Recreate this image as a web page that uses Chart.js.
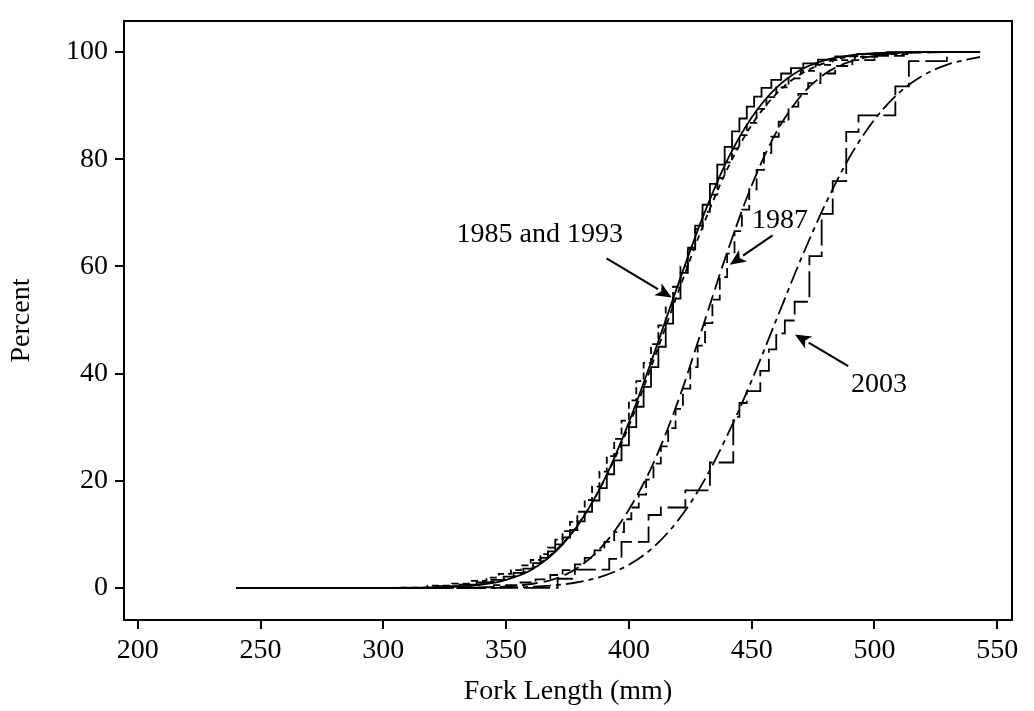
<!DOCTYPE html>
<html>
<head>
<meta charset="utf-8">
<title>Fork length distributions</title>
<script src="https://cdn.jsdelivr.net/npm/chart.js"></script>
<style>
  html, body { margin: 0; padding: 0; background: #fff; }
  #wrap { width: 1034px; height: 711px; }
</style>
</head>
<body>
<div id="wrap"><canvas id="cdfChart" width="1034" height="711"></canvas></div>
<script>
// axis ticks
const xTicks = [200, 250, 300, 350, 400, 450, 500, 550];
const yTicks = [0, 20, 40, 60, 80, 100];

// empirical (step) curves, fork length in mm / cumulative percent
const len1985 = [240, 322, 331, 338, 344, 349, 353, 357, 361, 364, 367, 370, 373, 376, 379, 382, 385, 388, 391, 394, 397, 400, 403, 406, 409, 412, 415, 418, 421, 424, 427, 430, 433, 436, 439, 442, 445, 448, 451, 454, 458, 462, 466, 471, 477, 484, 493, 505, 543];
const pct1985 = [0, 0.3, 0.6, 1.0, 1.5, 2.1, 2.8, 3.6, 4.6, 5.6, 6.8, 8.1, 9.4, 10.8, 12.4, 14.2, 16.3, 18.6, 21.2, 23.8, 26.6, 30.0, 33.8, 37.5, 41.2, 45.0, 49.3, 54.0, 58.8, 63.2, 67.6, 71.5, 75.4, 79.0, 82.3, 85.2, 87.6, 89.8, 91.7, 93.3, 94.8, 96.0, 97.0, 97.9, 98.6, 99.2, 99.6, 100, 100];

const len1993 = [240, 318, 328, 336, 342, 347, 352, 356, 360, 364, 367, 370, 373, 376, 379, 382, 385, 388, 391, 394, 397, 400, 403, 406, 409, 412, 415, 418, 421, 424, 427, 430, 433, 436, 439, 442, 445, 448, 452, 456, 460, 465, 470, 476, 483, 492, 502, 515, 543];
const pct1993 = [0, 0.4, 0.8, 1.3, 1.9, 2.6, 3.3, 4.2, 5.2, 6.3, 7.5, 9.0, 10.6, 12.3, 14.2, 16.4, 18.9, 21.7, 24.6, 27.8, 31.2, 35.0, 38.6, 42.0, 45.5, 49.0, 52.5, 56.2, 60.0, 63.5, 67.0, 70.2, 73.4, 76.5, 79.4, 82.0, 84.5, 86.8, 89.4, 91.6, 93.4, 95.1, 96.5, 97.6, 98.5, 99.1, 99.6, 100, 100];

const len1987 = [240, 345, 355, 362, 368, 373, 378, 382, 386, 390, 394, 398, 401, 404, 407, 410, 413, 416, 419, 422, 425, 428, 431, 434, 437, 440, 443, 446, 449, 452, 455, 458, 461, 465, 469, 473, 478, 484, 491, 500, 512, 543];
const pct1987 = [0, 0.5, 1.0, 1.6, 2.4, 3.3, 4.4, 5.6, 7.0, 8.6, 10.4, 12.8, 15.0, 17.4, 20.2, 23.2, 26.4, 29.8, 33.4, 37.2, 41.2, 45.2, 49.4, 53.8, 58.0, 62.4, 66.6, 70.6, 74.4, 78.0, 81.2, 84.2, 87.0, 89.8, 92.2, 94.2, 96.0, 97.4, 98.5, 99.3, 100, 100];

const len2003 = [240, 371, 378, 392, 397, 408, 413, 423, 433, 442.5, 445, 448, 453.5, 457, 460, 463.5, 467.5, 473.5, 478.5, 483, 488.5, 493.5, 508.5, 514, 529.5, 543];
const pct2003 = [0, 1.7, 3.4, 5.4, 8.6, 13.6, 15.0, 18.2, 23.4, 31.9, 34.5, 36.7, 40.5, 44.5, 47.5, 49.9, 53.4, 61.9, 69.8, 75.9, 85.1, 88.2, 93.6, 98.3, 100, 100];

// fitted (smooth) curves, read at these lengths
const fitLen = [240, 300, 320, 340, 350, 360, 370, 380, 390, 400, 410, 420, 430, 440, 450, 460, 470, 480, 490, 500, 510, 520, 530, 543];
const fit1985 = [0, 0.01, 0.08, 0.6, 1.5, 3.3, 6.7, 12.2, 20.2, 30.9, 43.4, 56.6, 69.1, 79.8, 87.8, 93.3, 96.7, 98.5, 99.4, 99.8, 99.9, 100, 100, 100];
const fit1993 = [0, 0.01, 0.1, 0.7, 1.7, 3.5, 6.9, 12.3, 20.1, 30.2, 42.4, 55.1, 67.4, 78.1, 86.4, 92.2, 95.9, 98.0, 99.2, 99.7, 99.9, 100, 100, 100];
const fit1987 = [0, 0, 0.02, 0.1, 0.25, 0.7, 1.7, 4.0, 8.2, 14.6, 23.3, 34.8, 48.6, 62.6, 75.1, 85.0, 91.8, 96.0, 98.2, 99.3, 99.8, 99.9, 100, 100];
const fit2003 = [0, 0, 0.01, 0.03, 0.08, 0.2, 0.5, 1.1, 2.3, 4.3, 7.6, 12.6, 19.5, 28.4, 38.7, 50.0, 61.3, 71.6, 80.5, 87.4, 92.4, 95.7, 97.7, 99.1];

// labels with arrows: text position, arrow start, arrow tip (data units)
const notes = [
  { text: '1985 and 1993', at: [363.7, 65.9], from: [390.9, 61.5], to: [417.4, 54.2] },
  { text: '1987', at: [461.5, 68.6], from: [458.5, 65.8], to: [441.1, 60.3] },
  { text: '2003', at: [501.8, 37.9], from: [489.3, 41.4], to: [467.6, 47.3] }
];

const FONT = "'Liberation Serif', 'Times New Roman', Times, serif";

function pts(xs, ys) {
  return xs.map((x, i) => ({ x, y: ys[i] }));
}

// horizontal run first, then the jump at the new length
function stepSet(label, xs, ys, dash) {
  return {
    label, data: pts(xs, ys), stepped: 'before',
    borderColor: '#000', borderWidth: 1.8, borderDash: dash,
    pointRadius: 0, fill: false
  };
}

function fitSet(label, xs, ys, dash) {
  return {
    label, data: pts(xs, ys), cubicInterpolationMode: 'monotone',
    borderColor: '#000', borderWidth: 1.8, borderDash: dash,
    pointRadius: 0, fill: false
  };
}

const framePlugin = {
  id: 'frame',
  afterDatasetsDraw(chart) {
    const { ctx, chartArea: a, scales } = chart;
    ctx.save();
    ctx.strokeStyle = '#000';
    ctx.lineWidth = 2;
    ctx.strokeRect(a.left, a.top, a.right - a.left, a.bottom - a.top);

    ctx.font = '28px ' + FONT;
    ctx.fillStyle = '#000';
    ctx.textAlign = 'center';
    ctx.textBaseline = 'middle';
    notes.forEach(n => {
      const tx = scales.x.getPixelForValue(n.at[0]);
      const ty = scales.y.getPixelForValue(n.at[1]);
      ctx.fillText(n.text, tx, ty);
      const x1 = scales.x.getPixelForValue(n.from[0]);
      const y1 = scales.y.getPixelForValue(n.from[1]);
      const x2 = scales.x.getPixelForValue(n.to[0]);
      const y2 = scales.y.getPixelForValue(n.to[1]);
      const ang = Math.atan2(y2 - y1, x2 - x1);
      const head = 16, half = 7;
      const bx = x2 - head * Math.cos(ang), by = y2 - head * Math.sin(ang);
      ctx.lineWidth = 2;
      ctx.beginPath();
      ctx.moveTo(x1, y1);
      ctx.lineTo(bx, by);
      ctx.stroke();
      ctx.beginPath();
      ctx.moveTo(x2, y2);
      ctx.lineTo(bx + half * Math.sin(ang), by - half * Math.cos(ang));
      ctx.lineTo(bx + 4 * Math.cos(ang), by + 4 * Math.sin(ang));
      ctx.lineTo(bx - half * Math.sin(ang), by + half * Math.cos(ang));
      ctx.closePath();
      ctx.fill();
    });
    ctx.restore();
  }
};

Chart.defaults.font.family = FONT;
Chart.defaults.color = '#000';

new Chart(document.getElementById('cdfChart'), {
  type: 'line',
  data: {
    datasets: [
      stepSet('1985', len1985, pct1985, []),
      fitSet('1985 fit', fitLen, fit1985, []),
      stepSet('1993', len1993, pct1993, [7, 4]),
      fitSet('1993 fit', fitLen, fit1993, [6, 5]),
      stepSet('1987', len1987, pct1987, [12, 5]),
      fitSet('1987 fit', fitLen, fit1987, [16, 6]),
      stepSet('2003', len2003, pct2003, [26, 6]),
      fitSet('2003 fit', fitLen, fit2003, [18, 5, 5, 5])
    ]
  },
  options: {
    responsive: false,
    animation: false,
    layout: { padding: { left: 0, top: 10, right: 22, bottom: 0 } },
    plugins: { legend: { display: false }, tooltip: { enabled: false } },
    scales: {
      x: {
        type: 'linear', min: 194.4, max: 556,
        afterBuildTicks: s => { s.ticks = xTicks.map(v => ({ value: v })); },
        afterFit: s => { s.height = 91; },
        grid: { drawOnChartArea: false, drawTicks: true, tickLength: 9, color: '#000', lineWidth: 2 },
        border: { display: true, color: '#000', width: 2 },
        ticks: { font: { size: 28, lineHeight: 1 }, padding: 8, maxRotation: 0, color: '#000' },
        title: { display: true, text: 'Fork Length (mm)', font: { size: 28, lineHeight: 1 }, padding: { top: 0, bottom: 5 }, color: '#000' }
      },
      y: {
        type: 'linear', min: -6, max: 105.8,
        afterBuildTicks: s => { s.ticks = yTicks.map(v => ({ value: v })); },
        afterFit: s => { s.width = 124; },
        grid: { drawOnChartArea: false, drawTicks: true, tickLength: 9, color: '#000', lineWidth: 2 },
        border: { display: true, color: '#000', width: 2 },
        ticks: { font: { size: 28, lineHeight: 1 }, padding: 7, color: '#000' },
        title: { display: true, text: 'Percent', font: { size: 28, lineHeight: 1 }, padding: { top: 8, bottom: 0 }, color: '#000' }
      }
    }
  },
  plugins: [framePlugin]
});
</script>
</body>
</html>
